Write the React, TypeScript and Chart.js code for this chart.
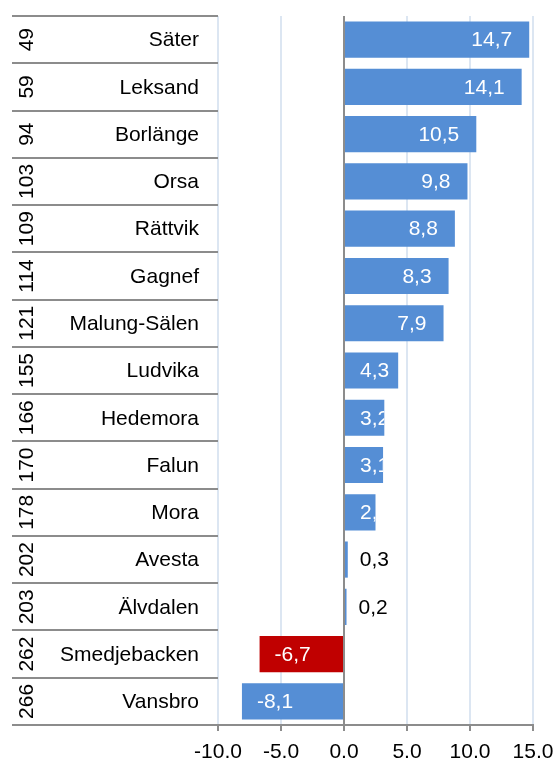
import React, { useEffect, useRef } from 'react';
import { Chart, registerables } from 'chart.js';

Chart.register(...registerables);

const ranks = ['49', '59', '94', '103', '109', '114', '121', '155', '166', '170', '178', '202', '203', '262', '266'];
const municipalities = ['Säter', 'Leksand', 'Borlänge', 'Orsa', 'Rättvik', 'Gagnef', 'Malung-Sälen', 'Ludvika', 'Hedemora', 'Falun', 'Mora', 'Avesta', 'Älvdalen', 'Smedjebacken', 'Vansbro'];
const values = [14.7, 14.1, 10.5, 9.8, 8.8, 8.3, 7.9, 4.3, 3.2, 3.1, 2.5, 0.3, 0.2, -6.7, -8.1];
const highlighted = ['Smedjebacken'];
const xTicks = [-10, -5, 0, 5, 10, 15];

const BLUE = '#558ed5';
const RED = '#c00000';
const GRAY = '#8c8c8c';
const LIGHT = '#dce6f2';
const FONT = "'Liberation Sans', Arial, sans-serif";
const FS = 21;

const fmt = (v: number) => v.toFixed(1).replace('.', ',');

const tablePlugin = {
  id: 'tableLabels',
  afterDraw(chart: any) {
    const ctx = chart.ctx;
    const yScale = chart.scales.y;
    ctx.save();
    ctx.fillStyle = '#000';
    ctx.font = `${FS}px ${FONT}`;
    municipalities.forEach((name, i) => {
      const y = yScale.getPixelForValue(i);
      ctx.textAlign = 'right';
      ctx.textBaseline = 'middle';
      ctx.fillText(name, 199, y + 1);
      ctx.save();
      ctx.translate(33, y);
      ctx.rotate(-Math.PI / 2);
      ctx.textAlign = 'center';
      ctx.textBaseline = 'alphabetic';
      ctx.fillText(ranks[i], 0, 0);
      ctx.restore();
    });
    ctx.restore();
  },
};

const valueLabelPlugin = {
  id: 'valueLabels',
  afterDatasetsDraw(chart: any) {
    const ctx = chart.ctx;
    const meta = chart.getDatasetMeta(0);
    ctx.save();
    ctx.font = `${FS}px ${FONT}`;
    ctx.textBaseline = 'middle';
    ctx.textAlign = 'left';
    meta.data.forEach((bar: any, i: number) => {
      const { x, y, base, height } = bar.getProps(['x', 'y', 'base', 'height'], true);
      const v = values[i];
      const txt = fmt(v);
      const w = ctx.measureText(txt).width;
      if (Math.abs(v) < 1) {
        ctx.fillStyle = '#000';
        ctx.fillText(txt, Math.max(x, base) + 12, y + 1);
      } else if (v > 0) {
        const left = Math.max(x - 17 - w, base + 15);
        ctx.save();
        ctx.beginPath();
        ctx.rect(base, y - height / 2, x - base, height);
        ctx.clip();
        ctx.fillStyle = '#fff';
        ctx.fillText(txt, left, y + 1);
        ctx.restore();
      } else {
        ctx.fillStyle = '#fff';
        ctx.fillText(txt, x + 15, y + 1);
      }
    });
    ctx.restore();
  },
};

export default function App() {
  const ref = useRef<HTMLCanvasElement | null>(null);

  useEffect(() => {
    if (!ref.current) return;
    Chart.defaults.font.family = FONT;
    const chart = new Chart(ref.current, {
      type: 'bar',
      data: {
        labels: municipalities,
        datasets: [
          {
            data: values,
            backgroundColor: municipalities.map((m) => (highlighted.includes(m) ? RED : BLUE)),
            borderWidth: 0,
            barPercentage: 0.765,
            categoryPercentage: 1,
          },
        ],
      },
      options: {
        indexAxis: 'y',
        animation: false,
        responsive: true,
        maintainAspectRatio: false,
        layout: { padding: { left: 12, top: 16, right: 23, bottom: 0 } },
        plugins: {
          legend: { display: false },
          tooltip: { enabled: false },
        },
        scales: {
          x: {
            type: 'linear',
            min: xTicks[0],
            max: xTicks[xTicks.length - 1],
            afterBuildTicks: (scale: any) => {
              scale.ticks = xTicks.map((v) => ({ value: v }));
            },
            afterFit: (scale: any) => {
              scale.height = 33;
              scale.paddingLeft = 0;
              scale.paddingRight = 0;
            },
            ticks: {
              color: '#000',
              font: { size: FS, family: FONT },
              padding: 9,
              callback: (v: any) => fmt(Number(v)),
              maxRotation: 0,
            },
            grid: {
              color: (c: any) => (c.tick && c.tick.value === 0 ? GRAY : LIGHT),
              lineWidth: 2,
              tickColor: GRAY,
              tickLength: 6,
              tickWidth: 2,
            },
            border: { display: true, color: GRAY, width: 2 },
          },
          y: {
            type: 'category',
            afterFit: (scale: any) => {
              scale.width = 206;
            },
            ticks: { display: false },
            grid: {
              offset: true,
              drawOnChartArea: false,
              drawTicks: true,
              tickLength: 206,
              tickColor: GRAY,
              tickWidth: 2,
              color: GRAY,
              lineWidth: 2,
            },
            border: { display: false },
          },
        },
      },
      plugins: [tablePlugin, valueLabelPlugin],
    });
    return () => chart.destroy();
  }, []);

  return (
    <div style={{ position: 'absolute', left: 0, top: 0, width: 556, height: 758 }}>
      <canvas ref={ref} />
    </div>
  );
}
